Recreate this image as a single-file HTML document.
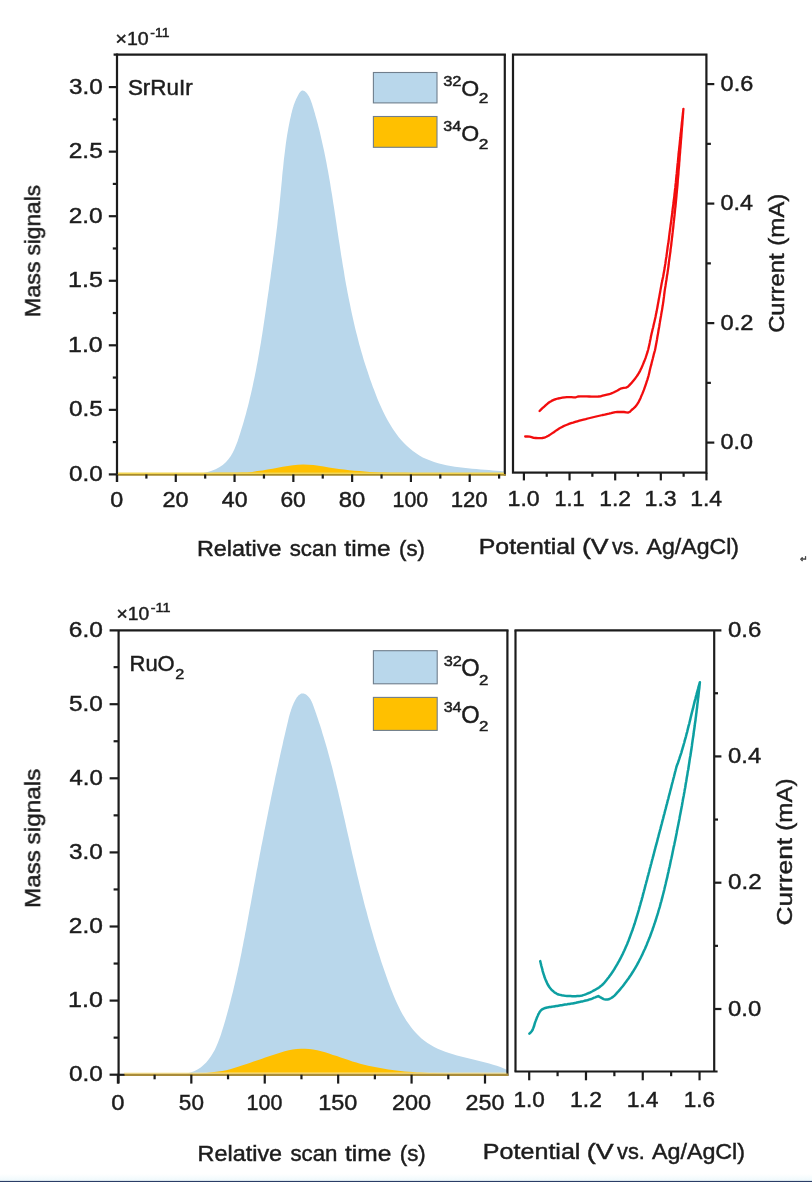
<!DOCTYPE html>
<html lang="en"><head><meta charset="utf-8"><title>DEMS mass signals and CV curves</title>
<style>
html,body{margin:0;padding:0;background:#fff;}
svg{display:block;}
svg text{font-family:"Liberation Sans",sans-serif;stroke:#1c1c1c;stroke-width:0.45px;}
</style></head>
<body>
<svg width="812" height="1182" viewBox="0 0 812 1182">
<defs><filter id="soft" x="0" y="0" width="812" height="1182" filterUnits="userSpaceOnUse"><feGaussianBlur stdDeviation="0.45"/></filter></defs>
<rect width="812" height="1182" fill="#ffffff"/>
<g filter="url(#soft)">
<path d="M118.0,474.4 L150.0,473.8 L195.6,473.2 L199.5,473.3 L203.6,472.9 L207.7,472.1 L211.7,470.8 L215.6,469.2 L219.3,467.2 L222.7,464.9 L225.8,462.2 L228.4,459.3 L230.8,456.0 L232.8,452.6 L234.5,449.0 L236.0,445.2 L237.5,441.4 L238.8,437.5 L240.1,433.6 L241.3,429.6 L242.5,425.7 L243.7,421.8 L244.8,417.8 L245.9,413.9 L246.9,409.9 L248.0,406.0 L249.0,402.0 L249.9,398.0 L250.9,394.1 L251.8,390.1 L252.7,386.1 L253.5,382.1 L254.4,378.1 L255.2,374.1 L256.0,370.1 L256.7,366.1 L257.5,362.0 L258.2,358.0 L258.9,354.0 L259.6,350.0 L260.3,345.9 L261.0,341.9 L261.6,337.9 L262.3,333.8 L262.9,329.8 L263.5,325.8 L264.1,321.7 L264.7,317.7 L265.3,313.7 L265.9,309.6 L266.5,305.6 L267.0,301.6 L267.6,297.5 L268.2,293.5 L268.8,289.5 L269.3,285.4 L269.9,281.4 L270.5,277.4 L271.0,273.3 L271.6,269.3 L272.1,265.3 L272.7,261.2 L273.2,257.2 L273.8,253.2 L274.3,249.1 L274.8,245.1 L275.3,241.1 L275.8,237.0 L276.3,233.0 L276.8,228.9 L277.3,224.9 L277.7,220.8 L278.2,216.7 L278.6,212.7 L279.1,208.6 L279.5,204.5 L279.9,200.4 L280.3,196.4 L280.7,192.3 L281.1,188.2 L281.5,184.1 L281.9,180.0 L282.2,175.9 L282.6,171.8 L283.1,167.7 L283.5,163.6 L283.9,159.5 L284.4,155.4 L284.9,151.4 L285.4,147.3 L285.9,143.3 L286.5,139.2 L287.1,135.2 L287.8,131.2 L288.5,127.2 L289.3,123.3 L290.1,119.3 L291.0,115.4 L291.2,114.3 L291.4,113.4 L291.7,112.5 L291.9,111.7 L291.9,111.5 L292.1,110.8 L292.3,109.9 L292.6,109.1 L292.8,108.2 L293.0,107.6 L293.1,107.3 L293.4,106.5 L293.6,105.6 L293.9,104.8 L294.2,103.9 L294.3,103.7 L294.5,103.0 L294.9,102.2 L295.2,101.3 L295.6,100.5 L295.8,99.9 L295.9,99.6 L296.3,98.7 L296.7,97.9 L297.2,97.0 L297.6,96.2 L297.7,96.0 L298.1,95.3 L298.5,94.5 L299.0,93.6 L299.6,92.8 L299.9,92.3 L300.1,92.0 L300.7,91.4 L301.3,90.9 L302.0,90.6 L302.8,90.6 L302.9,90.6 L303.5,90.8 L304.3,91.1 L305.1,91.6 L305.8,92.2 L306.3,92.6 L306.5,92.9 L307.1,93.6 L307.7,94.4 L308.2,95.2 L308.7,96.0 L308.8,96.1 L309.2,96.8 L309.6,97.7 L310.0,98.5 L310.4,99.4 L310.6,99.9 L310.7,100.2 L311.0,101.1 L311.3,101.9 L311.6,102.8 L311.9,103.6 L312.0,103.7 L312.2,104.5 L312.5,105.4 L312.7,106.2 L313.0,107.1 L313.1,107.6 L313.3,107.9 L313.5,108.8 L313.8,109.7 L314.0,110.5 L314.3,111.4 L314.3,111.5 L314.5,112.3 L314.8,113.1 L315.4,115.4 L316.5,119.3 L317.6,123.2 L318.6,127.2 L319.6,131.1 L320.5,135.1 L321.4,139.0 L322.3,143.0 L323.2,147.0 L324.1,151.0 L324.9,155.0 L325.7,159.0 L326.5,163.0 L327.2,167.0 L328.0,171.0 L328.7,175.0 L329.4,179.1 L330.1,183.1 L330.7,187.1 L331.4,191.2 L332.1,195.2 L332.7,199.3 L333.3,203.3 L334.0,207.4 L334.6,211.5 L335.2,215.5 L335.8,219.6 L336.4,223.6 L337.0,227.7 L337.6,231.7 L338.2,235.8 L338.8,239.8 L339.5,243.9 L340.1,247.9 L340.7,252.0 L341.3,256.0 L342.0,260.1 L342.6,264.1 L343.3,268.1 L344.0,272.1 L344.6,276.2 L345.3,280.2 L346.0,284.2 L346.8,288.2 L347.5,292.2 L348.3,296.2 L349.1,300.2 L349.9,304.1 L350.7,308.1 L351.5,312.1 L352.4,316.1 L353.3,320.0 L354.2,324.0 L355.1,327.9 L356.1,331.9 L357.1,335.8 L358.1,339.8 L359.1,343.7 L360.2,347.6 L361.3,351.6 L362.5,355.5 L363.6,359.4 L364.8,363.3 L366.1,367.2 L367.4,371.1 L368.7,375.1 L370.0,378.9 L371.4,382.8 L372.8,386.7 L374.3,390.6 L375.8,394.5 L377.3,398.4 L378.9,402.2 L380.6,406.0 L382.3,409.8 L384.1,413.5 L386.0,417.2 L387.9,420.8 L390.0,424.3 L392.1,427.7 L394.3,431.1 L396.6,434.3 L399.0,437.4 L401.6,440.4 L404.2,443.3 L407.0,446.0 L409.9,448.6 L412.9,451.1 L416.1,453.3 L419.4,455.4 L422.8,457.4 L426.4,459.1 L430.2,460.6 L434.1,462.0 L438.1,463.2 L442.2,464.3 L446.4,465.2 L450.6,466.0 L454.9,466.7 L459.2,467.3 L463.5,467.8 L467.9,468.3 L472.2,468.7 L476.5,469.0 L480.7,469.4 L484.8,469.7 L488.9,470.0 L492.9,470.4 L496.7,470.7 L500.4,471.1 L504.0,471.6 L504.8,474.4Z" fill="#b9d7eb"/>
<path d="M118.0,475.0 L118.0,473.0 L123.2,473.0 L128.3,473.0 L133.5,473.0 L138.6,473.0 L143.8,473.0 L149.0,473.0 L154.1,472.9 L159.3,472.9 L164.5,472.9 L169.6,472.9 L174.8,472.9 L179.9,472.9 L185.1,472.9 L190.3,472.9 L195.4,472.9 L200.6,472.9 L205.7,472.9 L210.9,472.9 L216.1,472.8 L221.2,472.8 L226.4,472.8 L231.5,472.8 L236.7,472.7 L241.9,472.6 L247.0,472.4 L252.2,471.9 L257.3,471.1 L262.4,470.4 L267.5,469.6 L272.6,468.7 L277.6,467.7 L282.7,466.7 L287.8,465.9 L292.9,465.2 L298.0,464.8 L303.2,464.5 L308.4,464.7 L313.5,465.0 L318.6,465.7 L323.7,466.6 L328.8,467.5 L333.9,468.3 L339.0,469.0 L344.1,469.6 L349.3,470.2 L354.4,470.7 L359.5,471.1 L364.7,471.5 L369.8,471.9 L375.0,472.2 L380.1,472.4 L385.3,472.6 L390.5,472.7 L395.6,472.7 L400.8,472.8 L405.9,472.8 L411.1,472.9 L416.3,472.9 L421.4,472.9 L426.6,472.9 L431.7,472.9 L436.9,473.0 L442.1,473.0 L447.2,473.0 L452.4,473.0 L457.5,473.0 L462.7,473.0 L467.9,473.1 L473.0,473.1 L478.2,473.1 L483.4,473.1 L488.5,473.1 L493.7,473.1 L498.8,473.1 L504.0,473.1 L504.0,475.0Z" fill="#ffc000"/>
<line x1="117.00" y1="53.50" x2="117.00" y2="482.00" stroke="#1c1c1c" stroke-width="2.2" stroke-linecap="butt"/>
<line x1="113.60" y1="54.60" x2="505.90" y2="54.60" stroke="#1c1c1c" stroke-width="2.2" stroke-linecap="butt"/>
<line x1="504.80" y1="54.60" x2="504.80" y2="475.40" stroke="#1c1c1c" stroke-width="2.2" stroke-linecap="butt"/>
<line x1="117.00" y1="474.90" x2="505.80" y2="474.90" stroke="#a98c2c" stroke-width="1.9" stroke-linecap="butt"/>
<line x1="118.00" y1="473.20" x2="503.80" y2="473.20" stroke="#f2d654" stroke-width="1.5" stroke-linecap="butt"/>
<line x1="108.80" y1="474.40" x2="117.00" y2="474.40" stroke="#1c1c1c" stroke-width="2.2" stroke-linecap="butt"/>
<text transform="translate(68.93,480.80) scale(1.0816,1)" font-size="22.43" fill="#1c1c1c">0.0</text>
<line x1="112.80" y1="442.12" x2="117.00" y2="442.12" stroke="#1c1c1c" stroke-width="2.2" stroke-linecap="butt"/>
<line x1="108.80" y1="409.85" x2="117.00" y2="409.85" stroke="#1c1c1c" stroke-width="2.2" stroke-linecap="butt"/>
<text transform="translate(68.93,416.25) scale(1.0857,1)" font-size="22.43" fill="#1c1c1c">0.5</text>
<line x1="112.80" y1="377.57" x2="117.00" y2="377.57" stroke="#1c1c1c" stroke-width="2.2" stroke-linecap="butt"/>
<line x1="108.80" y1="345.30" x2="117.00" y2="345.30" stroke="#1c1c1c" stroke-width="2.2" stroke-linecap="butt"/>
<text transform="translate(68.03,351.70) scale(1.1112,1)" font-size="22.43" fill="#1c1c1c">1.0</text>
<line x1="112.80" y1="313.02" x2="117.00" y2="313.02" stroke="#1c1c1c" stroke-width="2.2" stroke-linecap="butt"/>
<line x1="108.80" y1="280.75" x2="117.00" y2="280.75" stroke="#1c1c1c" stroke-width="2.2" stroke-linecap="butt"/>
<text transform="translate(68.02,287.15) scale(1.1155,1)" font-size="22.43" fill="#1c1c1c">1.5</text>
<line x1="112.80" y1="248.47" x2="117.00" y2="248.47" stroke="#1c1c1c" stroke-width="2.2" stroke-linecap="butt"/>
<line x1="108.80" y1="216.20" x2="117.00" y2="216.20" stroke="#1c1c1c" stroke-width="2.2" stroke-linecap="butt"/>
<text transform="translate(68.68,222.60) scale(1.0899,1)" font-size="22.43" fill="#1c1c1c">2.0</text>
<line x1="112.80" y1="183.93" x2="117.00" y2="183.93" stroke="#1c1c1c" stroke-width="2.2" stroke-linecap="butt"/>
<line x1="108.80" y1="151.65" x2="117.00" y2="151.65" stroke="#1c1c1c" stroke-width="2.2" stroke-linecap="butt"/>
<text transform="translate(68.67,158.05) scale(1.0941,1)" font-size="22.43" fill="#1c1c1c">2.5</text>
<line x1="112.80" y1="119.38" x2="117.00" y2="119.38" stroke="#1c1c1c" stroke-width="2.2" stroke-linecap="butt"/>
<line x1="108.80" y1="87.10" x2="117.00" y2="87.10" stroke="#1c1c1c" stroke-width="2.2" stroke-linecap="butt"/>
<text transform="translate(68.93,93.50) scale(1.0816,1)" font-size="22.43" fill="#1c1c1c">3.0</text>
<line x1="117.00" y1="474.40" x2="117.00" y2="482.00" stroke="#1c1c1c" stroke-width="2.2" stroke-linecap="butt"/>
<line x1="146.39" y1="474.40" x2="146.39" y2="478.60" stroke="#1c1c1c" stroke-width="2.2" stroke-linecap="butt"/>
<line x1="175.78" y1="474.40" x2="175.78" y2="482.00" stroke="#1c1c1c" stroke-width="2.2" stroke-linecap="butt"/>
<line x1="205.18" y1="474.40" x2="205.18" y2="478.60" stroke="#1c1c1c" stroke-width="2.2" stroke-linecap="butt"/>
<line x1="234.57" y1="474.40" x2="234.57" y2="482.00" stroke="#1c1c1c" stroke-width="2.2" stroke-linecap="butt"/>
<line x1="263.96" y1="474.40" x2="263.96" y2="478.60" stroke="#1c1c1c" stroke-width="2.2" stroke-linecap="butt"/>
<line x1="293.35" y1="474.40" x2="293.35" y2="482.00" stroke="#1c1c1c" stroke-width="2.2" stroke-linecap="butt"/>
<line x1="322.74" y1="474.40" x2="322.74" y2="478.60" stroke="#1c1c1c" stroke-width="2.2" stroke-linecap="butt"/>
<line x1="352.14" y1="474.40" x2="352.14" y2="482.00" stroke="#1c1c1c" stroke-width="2.2" stroke-linecap="butt"/>
<line x1="381.53" y1="474.40" x2="381.53" y2="478.60" stroke="#1c1c1c" stroke-width="2.2" stroke-linecap="butt"/>
<line x1="410.92" y1="474.40" x2="410.92" y2="482.00" stroke="#1c1c1c" stroke-width="2.2" stroke-linecap="butt"/>
<line x1="440.31" y1="474.40" x2="440.31" y2="478.60" stroke="#1c1c1c" stroke-width="2.2" stroke-linecap="butt"/>
<line x1="469.70" y1="474.40" x2="469.70" y2="482.00" stroke="#1c1c1c" stroke-width="2.2" stroke-linecap="butt"/>
<line x1="499.10" y1="474.40" x2="499.10" y2="478.60" stroke="#1c1c1c" stroke-width="2.2" stroke-linecap="butt"/>
<text transform="translate(110.37,507.20) scale(1.0606,1)" font-size="22.00" fill="#1c1c1c">0</text>
<text transform="translate(162.51,507.20) scale(1.0643,1)" font-size="22.00" fill="#1c1c1c">20</text>
<text transform="translate(221.81,507.20) scale(1.0513,1)" font-size="22.00" fill="#1c1c1c">40</text>
<text transform="translate(280.41,507.20) scale(1.0377,1)" font-size="22.00" fill="#1c1c1c">60</text>
<text transform="translate(338.66,507.20) scale(1.0856,1)" font-size="22.00" fill="#1c1c1c">80</text>
<text transform="translate(392.62,507.20) scale(0.9705,1)" font-size="22.00" fill="#1c1c1c">100</text>
<text transform="translate(450.64,507.20) scale(1.0114,1)" font-size="22.00" fill="#1c1c1c">120</text>
<text transform="translate(115.53,45.20) scale(1.0302,1)" font-size="18.99" fill="#1c1c1c">×10</text>
<text transform="translate(150.37,36.60) scale(1.0781,1)" font-size="12.90" fill="#1c1c1c">-11</text>
<text transform="translate(127.89,95.20) scale(1.0324,1)" font-size="21.74" fill="#1c1c1c">SrRuIr</text>
<rect x="373.4" y="72.5" width="63.6" height="30.4" fill="#b9d7eb" stroke="#6f7e8c" stroke-width="1.1"/>
<rect x="373.4" y="116.5" width="63.6" height="30.8" fill="#ffc000" stroke="#6f7e8c" stroke-width="1.1"/>
<text transform="translate(443.14,85.60) scale(1.1480,1)" font-size="14.35" fill="#1c1c1c">32</text>
<text transform="translate(461.36,95.60) scale(1.0091,1)" font-size="22.86" fill="#1c1c1c">O</text>
<text transform="translate(478.63,103.20) scale(1.2225,1)" font-size="14.20" fill="#1c1c1c">2</text>
<text transform="translate(443.15,130.90) scale(1.1259,1)" font-size="14.35" fill="#1c1c1c">34</text>
<text transform="translate(461.36,140.90) scale(1.0091,1)" font-size="22.86" fill="#1c1c1c">O</text>
<text transform="translate(478.63,148.50) scale(1.2225,1)" font-size="14.20" fill="#1c1c1c">2</text>
<text transform="translate(40.20,0) rotate(-90)" y="0" font-size="21.74" fill="#1c1c1c" xml:space="preserve"><tspan x="-317.27" textLength="55.98" lengthAdjust="spacingAndGlyphs">Mass</tspan> <tspan x="-255.58" textLength="70.73" lengthAdjust="spacingAndGlyphs">signals</tspan></text>
<text y="556.10" font-size="21.74" fill="#1c1c1c" xml:space="preserve"><tspan x="196.93" textLength="84.49" lengthAdjust="spacingAndGlyphs">Relative</tspan> <tspan x="289.73" textLength="47.07" lengthAdjust="spacingAndGlyphs">scan</tspan> <tspan x="344.33" textLength="46.35" lengthAdjust="spacingAndGlyphs">time</tspan> <tspan x="399.07" textLength="25.89" lengthAdjust="spacingAndGlyphs">(s)</tspan></text>
<path d="M525.2,436.5 L527.4,436.5 L529.6,436.6 L531.6,437.1 L533.6,437.9 L535.8,438.0 L538.0,438.1 L540.2,438.1 L542.3,438.0 L544.4,437.7 L546.4,436.8 L548.4,435.8 L550.2,434.6 L552.0,433.4 L553.8,432.2 L555.6,430.9 L557.4,429.7 L559.2,428.6 L561.1,427.4 L563.0,426.4 L565.0,425.5 L567.0,424.7 L569.0,423.9 L571.1,423.2 L573.1,422.6 L575.2,421.9 L577.3,421.3 L579.4,420.7 L581.5,420.1 L583.6,419.6 L585.7,419.1 L587.8,418.5 L589.9,418.0 L592.0,417.5 L594.1,417.0 L596.2,416.5 L598.3,416.0 L600.5,415.5 L602.6,415.0 L604.7,414.6 L606.8,414.1 L609.0,413.7 L611.1,413.2 L613.2,412.6 L615.3,412.1 L617.4,412.0 L619.6,412.0 L621.8,412.0 L624.0,412.0 L626.2,412.3 L628.3,412.6 L630.0,411.7 L631.6,410.0 L633.3,408.6 L634.9,407.2 L636.3,405.5 L637.6,403.7 L638.7,401.8 L639.6,399.9 L640.6,397.9 L641.4,395.9 L642.3,393.9 L643.1,391.9 L643.9,389.9 L644.6,387.9 L645.3,385.8 L646.0,383.8 L646.7,381.7 L647.4,379.6 L648.0,377.6 L648.6,375.5 L649.1,373.4 L649.6,371.2 L650.1,369.1 L650.6,367.0 L651.2,364.9 L651.7,362.8 L652.2,360.7 L652.8,358.6 L653.3,356.5 L653.8,354.4 L654.4,352.3 L655.0,350.2 L655.4,348.1 L655.8,346.0 L656.2,343.8 L656.6,341.7 L657.0,339.5 L657.3,337.4 L657.7,335.3 L658.1,333.1 L658.4,331.0 L658.8,328.8 L659.2,326.7 L659.5,324.6 L659.9,322.4 L660.2,320.3 L660.6,318.1 L661.0,316.0 L661.3,313.9 L661.7,311.7 L662.1,309.6 L662.4,307.4 L662.8,305.3 L663.1,303.1 L663.4,301.0 L663.7,298.8 L664.0,296.7 L664.2,294.5 L664.5,292.4 L664.8,290.2 L665.1,288.1 L665.5,285.9 L665.8,283.8 L666.1,281.7 L666.5,279.5 L666.8,277.4 L667.1,275.2 L667.5,273.1 L667.8,270.9 L668.1,268.8 L668.4,266.6 L668.7,264.5 L668.9,262.3 L669.2,260.2 L669.5,258.0 L669.8,255.9 L670.1,253.7 L670.4,251.6 L670.6,249.4 L670.9,247.3 L671.2,245.1 L671.4,242.9 L671.7,240.8 L671.9,238.6 L672.2,236.5 L672.4,234.3 L672.7,232.2 L672.9,230.0 L673.2,227.8 L673.4,225.7 L673.6,223.5 L673.9,221.4 L674.1,219.2 L674.3,217.1 L674.6,214.9 L674.8,212.7 L675.0,210.6 L675.2,208.4 L675.5,206.3 L675.7,204.1 L675.9,201.9 L676.1,199.8 L676.3,197.6 L676.5,195.5 L676.7,193.3 L676.9,191.1 L677.1,189.0 L677.3,186.8 L677.5,184.6 L677.7,182.5 L677.8,180.3 L678.0,178.2 L678.2,176.0 L678.4,173.8 L678.5,171.7 L678.7,169.5 L678.9,167.3 L679.1,165.2 L679.2,163.0 L679.4,160.8 L679.6,158.7 L679.7,156.5 L679.9,154.4 L680.1,152.2 L680.2,150.0 L680.4,147.9 L680.6,145.7 L680.8,143.5 L680.9,141.4 L681.1,139.2 L681.3,137.0 L681.4,134.9 L681.6,132.7 L681.8,130.5 L681.9,128.4 L682.1,126.2 L682.3,124.1 L682.4,121.9 L682.6,119.7 L682.8,117.6 L682.9,115.4 L683.1,113.2 L683.2,111.1 L683.4,108.9 L683.4,108.9 L683.2,111.1 L682.9,113.4 L682.7,115.6 L682.4,117.9 L682.2,120.1 L681.9,122.3 L681.7,124.6 L681.5,126.8 L681.2,129.1 L681.0,131.3 L680.7,133.6 L680.5,135.8 L680.3,138.0 L680.0,140.3 L679.8,142.5 L679.6,144.8 L679.3,147.0 L679.1,149.2 L678.9,151.5 L678.6,153.7 L678.4,156.0 L678.2,158.2 L678.0,160.5 L677.8,162.7 L677.5,164.9 L677.3,167.2 L677.1,169.4 L676.9,171.7 L676.7,173.9 L676.4,176.2 L676.2,178.4 L676.0,180.6 L675.8,182.9 L675.5,185.1 L675.3,187.4 L675.0,189.6 L674.8,191.8 L674.5,194.1 L674.3,196.3 L674.0,198.6 L673.7,200.8 L673.5,203.0 L673.2,205.3 L672.9,207.5 L672.6,209.7 L672.4,212.0 L672.1,214.2 L671.8,216.5 L671.5,218.7 L671.2,220.9 L670.9,223.2 L670.6,225.4 L670.3,227.6 L670.0,229.9 L669.7,232.1 L669.4,234.3 L669.1,236.6 L668.9,238.8 L668.6,241.0 L668.3,243.3 L667.9,245.5 L667.6,247.7 L667.3,250.0 L667.0,252.2 L666.7,254.4 L666.4,256.7 L666.0,258.9 L665.7,261.1 L665.4,263.4 L665.0,265.6 L664.7,267.8 L664.3,270.0 L663.9,272.2 L663.5,274.5 L663.1,276.7 L662.6,278.9 L662.2,281.1 L661.7,283.3 L661.3,285.5 L660.9,287.7 L660.5,289.9 L660.1,292.2 L659.7,294.4 L659.3,296.6 L658.9,298.8 L658.5,301.0 L658.1,303.3 L657.7,305.5 L657.3,307.7 L656.9,309.9 L656.5,312.1 L656.0,314.3 L655.6,316.5 L655.1,318.8 L654.6,321.0 L654.1,323.1 L653.6,325.3 L653.1,327.5 L652.5,329.7 L652.0,331.9 L651.5,334.1 L651.0,336.3 L650.6,338.5 L650.1,340.7 L649.7,342.9 L649.2,345.2 L648.7,347.4 L648.2,349.5 L647.6,351.7 L646.9,353.9 L646.2,356.0 L645.5,358.1 L644.7,360.2 L643.8,362.3 L643.0,364.4 L642.1,366.5 L641.2,368.6 L640.2,370.6 L639.1,372.6 L638.0,374.5 L636.7,376.4 L635.4,378.2 L634.0,379.9 L632.5,381.7 L631.1,383.4 L629.5,385.1 L627.9,386.8 L626.0,387.6 L623.7,387.9 L621.5,388.3 L619.5,389.3 L617.5,390.5 L615.5,391.5 L613.5,392.5 L611.4,393.4 L609.3,394.2 L607.1,394.7 L604.9,395.2 L602.7,395.7 L600.5,396.3 L598.3,396.5 L596.0,396.6 L593.8,396.6 L591.5,396.6 L589.3,396.5 L587.0,396.4 L584.8,396.3 L582.5,396.3 L580.2,396.3 L578.0,396.5 L575.9,397.3 L573.7,397.3 L571.4,397.2 L569.1,397.1 L566.9,397.1 L564.6,397.3 L562.4,397.7 L560.2,398.1 L558.0,398.5 L555.8,399.1 L553.7,399.9 L551.6,400.9 L549.7,402.0 L547.9,403.3 L546.1,404.8 L544.5,406.3 L542.8,407.8 L541.2,409.4 L539.6,411.0" fill="none" stroke="#f20a0c" stroke-width="2.3" stroke-linejoin="round" stroke-linecap="round"/>
<rect x="513.0" y="54.6" width="193.4" height="418.0" fill="none" stroke="#1c1c1c" stroke-width="2.2"/>
<line x1="523.90" y1="472.60" x2="523.90" y2="480.40" stroke="#1c1c1c" stroke-width="2.2" stroke-linecap="butt"/>
<line x1="546.72" y1="472.60" x2="546.72" y2="476.80" stroke="#1c1c1c" stroke-width="2.2" stroke-linecap="butt"/>
<line x1="569.54" y1="472.60" x2="569.54" y2="480.40" stroke="#1c1c1c" stroke-width="2.2" stroke-linecap="butt"/>
<line x1="592.36" y1="472.60" x2="592.36" y2="476.80" stroke="#1c1c1c" stroke-width="2.2" stroke-linecap="butt"/>
<line x1="615.18" y1="472.60" x2="615.18" y2="480.40" stroke="#1c1c1c" stroke-width="2.2" stroke-linecap="butt"/>
<line x1="638.00" y1="472.60" x2="638.00" y2="476.80" stroke="#1c1c1c" stroke-width="2.2" stroke-linecap="butt"/>
<line x1="660.82" y1="472.60" x2="660.82" y2="480.40" stroke="#1c1c1c" stroke-width="2.2" stroke-linecap="butt"/>
<line x1="683.64" y1="472.60" x2="683.64" y2="476.80" stroke="#1c1c1c" stroke-width="2.2" stroke-linecap="butt"/>
<line x1="706.46" y1="472.60" x2="706.46" y2="480.40" stroke="#1c1c1c" stroke-width="2.2" stroke-linecap="butt"/>
<text transform="translate(507.57,505.60) scale(1.0511,1)" font-size="22.00" fill="#1c1c1c">1.0</text>
<text transform="translate(554.42,505.60) scale(0.9807,1)" font-size="22.00" fill="#1c1c1c">1.1</text>
<text transform="translate(599.22,505.60) scale(1.0384,1)" font-size="22.00" fill="#1c1c1c">1.2</text>
<text transform="translate(644.53,505.60) scale(1.0517,1)" font-size="22.00" fill="#1c1c1c">1.3</text>
<text transform="translate(690.19,505.60) scale(1.0435,1)" font-size="22.00" fill="#1c1c1c">1.4</text>
<line x1="706.40" y1="442.60" x2="714.30" y2="442.60" stroke="#1c1c1c" stroke-width="2.2" stroke-linecap="butt"/>
<text transform="translate(720.56,449.10) scale(1.0510,1)" font-size="22.29" fill="#1c1c1c">0.0</text>
<line x1="706.40" y1="382.85" x2="710.90" y2="382.85" stroke="#1c1c1c" stroke-width="2.2" stroke-linecap="butt"/>
<line x1="706.40" y1="323.10" x2="714.30" y2="323.10" stroke="#1c1c1c" stroke-width="2.2" stroke-linecap="butt"/>
<text transform="translate(720.55,329.60) scale(1.0631,1)" font-size="22.29" fill="#1c1c1c">0.2</text>
<line x1="706.40" y1="263.35" x2="710.90" y2="263.35" stroke="#1c1c1c" stroke-width="2.2" stroke-linecap="butt"/>
<line x1="706.40" y1="203.60" x2="714.30" y2="203.60" stroke="#1c1c1c" stroke-width="2.2" stroke-linecap="butt"/>
<text transform="translate(720.57,210.10) scale(1.0470,1)" font-size="22.29" fill="#1c1c1c">0.4</text>
<line x1="706.40" y1="143.85" x2="710.90" y2="143.85" stroke="#1c1c1c" stroke-width="2.2" stroke-linecap="butt"/>
<line x1="706.40" y1="84.10" x2="714.30" y2="84.10" stroke="#1c1c1c" stroke-width="2.2" stroke-linecap="butt"/>
<text transform="translate(720.56,90.60) scale(1.0550,1)" font-size="22.29" fill="#1c1c1c">0.6</text>
<text transform="translate(783.80,0) rotate(-90)" y="0" font-size="22.17" fill="#1c1c1c" xml:space="preserve"><tspan x="-332.89" textLength="79.62" lengthAdjust="spacingAndGlyphs">Current</tspan> <tspan x="-245.85" textLength="52.22" lengthAdjust="spacingAndGlyphs">(mA)</tspan></text>
<text y="553.70" font-size="22.17" fill="#1c1c1c" xml:space="preserve"><tspan x="478.71" textLength="96.85" lengthAdjust="spacingAndGlyphs">Potential</tspan> <tspan x="581.90" textLength="26.63" lengthAdjust="spacingAndGlyphs">(V</tspan> <tspan x="611.99" textLength="27.61" lengthAdjust="spacingAndGlyphs">vs.</tspan> <tspan x="646.60" textLength="92.42" lengthAdjust="spacingAndGlyphs">Ag/AgCl)</tspan></text>
<text x="800" y="561.5" font-size="9" fill="#8a8a8a" stroke="none">↵</text>
<path d="M119.6,1074.7 L150.0,1074.4 L182.0,1074.3 L186.4,1073.7 L190.4,1072.6 L194.1,1071.2 L197.5,1069.5 L200.7,1067.4 L203.5,1065.1 L206.2,1062.5 L208.6,1059.6 L210.8,1056.6 L212.8,1053.3 L214.7,1049.9 L216.4,1046.3 L218.0,1042.6 L219.4,1038.8 L220.8,1035.0 L222.0,1031.0 L223.3,1027.1 L224.5,1023.1 L225.6,1019.2 L226.7,1015.2 L227.8,1011.3 L228.9,1007.3 L229.9,1003.4 L230.9,999.5 L231.9,995.6 L232.9,991.7 L233.8,987.8 L234.7,983.9 L235.6,980.0 L236.5,976.1 L237.4,972.2 L238.2,968.3 L239.1,964.4 L239.9,960.5 L240.7,956.6 L241.5,952.7 L242.2,948.8 L243.0,945.0 L243.7,941.1 L244.5,937.2 L245.2,933.3 L246.0,929.4 L246.7,925.5 L247.4,921.7 L248.1,917.8 L248.8,913.9 L249.5,910.0 L250.3,906.1 L251.0,902.2 L251.7,898.3 L252.4,894.4 L253.1,890.4 L253.8,886.5 L254.6,882.6 L255.3,878.7 L256.0,874.7 L256.7,870.8 L257.5,866.9 L258.2,862.9 L259.0,859.0 L259.7,855.0 L260.5,851.1 L261.2,847.1 L262.0,843.2 L262.8,839.2 L263.6,835.3 L264.3,831.3 L265.1,827.4 L265.9,823.4 L266.7,819.5 L267.5,815.5 L268.3,811.6 L269.1,807.6 L269.9,803.7 L270.7,799.7 L271.5,795.8 L272.3,791.9 L273.1,787.9 L274.0,784.0 L274.8,780.1 L275.6,776.1 L276.5,772.2 L277.3,768.3 L278.2,764.4 L279.0,760.5 L279.9,756.6 L280.7,752.7 L281.6,748.8 L282.5,745.0 L283.3,741.1 L284.2,737.2 L285.1,733.4 L286.0,729.5 L286.9,725.7 L287.8,721.9 L288.7,718.0 L289.5,715.1 L289.7,714.3 L289.7,714.2 L290.0,713.4 L290.2,712.6 L290.5,711.7 L290.8,710.9 L290.9,710.4 L291.0,710.0 L291.3,709.2 L291.6,708.4 L291.9,707.5 L292.2,706.7 L292.2,706.7 L292.6,705.8 L292.9,705.0 L293.3,704.2 L293.6,703.3 L293.8,702.9 L294.0,702.5 L294.4,701.7 L294.9,700.8 L295.3,700.0 L295.7,699.2 L295.7,699.2 L296.2,698.4 L296.7,697.6 L297.3,696.9 L297.8,696.2 L298.1,695.8 L298.4,695.5 L299.1,694.9 L299.8,694.4 L300.5,694.0 L301.2,693.6 L301.2,693.6 L302.0,693.4 L302.8,693.4 L303.6,693.5 L304.4,693.7 L304.8,693.9 L305.2,694.1 L305.9,694.5 L306.7,695.1 L307.4,695.7 L308.1,696.3 L308.1,696.4 L308.7,697.0 L309.3,697.8 L309.9,698.5 L310.4,699.3 L310.6,699.6 L310.8,700.0 L311.2,700.8 L311.6,701.6 L312.0,702.4 L312.3,703.2 L312.4,703.2 L312.7,704.0 L313.0,704.9 L313.3,705.7 L313.6,706.5 L313.8,706.9 L313.9,707.4 L314.2,708.2 L314.5,709.0 L314.8,709.9 L315.1,710.6 L315.1,710.7 L315.4,711.5 L315.7,712.4 L316.0,713.2 L316.3,714.1 L316.4,714.4 L317.7,718.2 L318.9,722.0 L320.2,725.8 L321.4,729.6 L322.5,733.4 L323.7,737.2 L324.8,741.1 L326.0,744.9 L327.1,748.7 L328.1,752.6 L329.2,756.5 L330.2,760.3 L331.3,764.2 L332.3,768.1 L333.3,772.0 L334.2,775.9 L335.2,779.8 L336.2,783.7 L337.1,787.6 L338.1,791.5 L339.0,795.4 L339.9,799.3 L340.8,803.2 L341.7,807.1 L342.6,811.0 L343.5,814.9 L344.4,818.8 L345.3,822.7 L346.1,826.6 L347.0,830.5 L347.9,834.4 L348.8,838.3 L349.7,842.2 L350.5,846.1 L351.4,850.0 L352.3,853.9 L353.2,857.7 L354.1,861.6 L355.0,865.5 L355.9,869.3 L356.8,873.2 L357.7,877.0 L358.7,880.9 L359.6,884.7 L360.5,888.6 L361.5,892.4 L362.5,896.3 L363.4,900.1 L364.4,903.9 L365.4,907.8 L366.5,911.6 L367.5,915.4 L368.5,919.3 L369.6,923.1 L370.7,926.9 L371.8,930.8 L372.9,934.6 L374.0,938.4 L375.2,942.2 L376.3,946.1 L377.5,949.9 L378.8,953.8 L380.0,957.6 L381.2,961.4 L382.5,965.3 L383.8,969.1 L385.2,973.0 L386.5,976.8 L387.9,980.7 L389.3,984.5 L390.8,988.4 L392.3,992.2 L393.8,996.0 L395.4,999.7 L397.1,1003.4 L398.8,1007.1 L400.6,1010.7 L402.5,1014.2 L404.5,1017.6 L406.6,1020.9 L408.8,1024.1 L411.1,1027.2 L413.5,1030.2 L416.0,1033.1 L418.7,1035.8 L421.5,1038.4 L424.4,1040.8 L427.5,1043.0 L430.8,1045.1 L434.2,1047.0 L437.7,1048.7 L441.4,1050.3 L445.2,1051.8 L449.0,1053.1 L453.0,1054.3 L457.0,1055.5 L461.0,1056.6 L465.1,1057.6 L469.2,1058.6 L473.3,1059.6 L477.3,1060.6 L481.3,1061.5 L485.3,1062.5 L489.2,1063.6 L493.1,1064.7 L496.8,1065.8 L500.4,1067.1 L503.9,1068.4 L507.3,1069.9 L507.4,1074.7Z" fill="#b9d7eb"/>
<path d="M124.0,1075.4 L124.0,1073.6 L128.1,1073.6 L132.2,1073.6 L136.3,1073.6 L140.4,1073.6 L144.5,1073.6 L148.6,1073.6 L152.7,1073.6 L156.8,1073.6 L160.9,1073.6 L165.0,1073.6 L169.1,1073.6 L173.2,1073.6 L177.3,1073.6 L181.4,1073.6 L185.5,1073.6 L189.6,1073.5 L193.7,1073.5 L197.8,1073.4 L201.9,1073.3 L206.0,1073.0 L210.0,1072.6 L214.1,1072.1 L218.2,1071.6 L222.2,1071.0 L226.3,1070.3 L230.2,1069.3 L234.1,1068.1 L238.1,1066.8 L241.9,1065.5 L245.8,1064.2 L249.7,1062.9 L253.6,1061.6 L257.5,1060.3 L261.4,1059.0 L265.2,1057.6 L269.1,1056.3 L273.0,1055.0 L276.9,1053.7 L280.8,1052.5 L284.7,1051.3 L288.7,1050.2 L292.7,1049.6 L296.8,1049.0 L300.9,1048.8 L305.0,1048.8 L309.1,1049.0 L313.1,1049.6 L317.2,1050.3 L321.2,1051.3 L325.1,1052.3 L329.0,1053.6 L332.9,1054.9 L336.8,1056.1 L340.7,1057.5 L344.6,1058.8 L348.5,1060.1 L352.4,1061.4 L356.3,1062.6 L360.2,1063.7 L364.2,1064.8 L368.2,1065.7 L372.2,1066.5 L376.2,1067.3 L380.2,1068.0 L384.3,1068.7 L388.3,1069.4 L392.4,1069.9 L396.4,1070.5 L400.5,1071.0 L404.6,1071.5 L408.7,1071.8 L412.8,1072.1 L416.8,1072.4 L420.9,1072.6 L425.0,1072.8 L429.1,1073.0 L433.2,1073.1 L437.3,1073.2 L441.4,1073.3 L445.5,1073.4 L449.6,1073.4 L453.7,1073.5 L457.8,1073.5 L461.9,1073.6 L466.0,1073.6 L470.1,1073.6 L474.2,1073.6 L478.3,1073.6 L482.4,1073.7 L486.5,1073.7 L490.6,1073.7 L494.7,1073.7 L498.8,1073.7 L502.9,1073.7 L507.0,1073.7 L507.0,1075.4Z" fill="#ffc000"/>
<line x1="118.60" y1="630.30" x2="118.60" y2="1083.60" stroke="#1c1c1c" stroke-width="2.2" stroke-linecap="butt"/>
<line x1="109.60" y1="630.30" x2="508.50" y2="630.30" stroke="#1c1c1c" stroke-width="2.2" stroke-linecap="butt"/>
<line x1="507.40" y1="630.30" x2="507.40" y2="1075.70" stroke="#1c1c1c" stroke-width="2.2" stroke-linecap="butt"/>
<line x1="124.00" y1="1074.80" x2="508.40" y2="1074.80" stroke="#a98c3a" stroke-width="2.5" stroke-linecap="butt"/>
<line x1="117.60" y1="1074.80" x2="124.50" y2="1074.80" stroke="#1c1c1c" stroke-width="2.2" stroke-linecap="butt"/>
<line x1="124.00" y1="1073.10" x2="506.40" y2="1073.10" stroke="#f8e9a8" stroke-width="1.0" stroke-linecap="butt"/>
<line x1="109.60" y1="1074.70" x2="118.60" y2="1074.70" stroke="#1c1c1c" stroke-width="2.2" stroke-linecap="butt"/>
<text transform="translate(69.03,1081.20) scale(1.0781,1)" font-size="22.57" fill="#1c1c1c">0.0</text>
<line x1="113.60" y1="1037.65" x2="118.60" y2="1037.65" stroke="#1c1c1c" stroke-width="2.2" stroke-linecap="butt"/>
<line x1="109.60" y1="1000.60" x2="118.60" y2="1000.60" stroke="#1c1c1c" stroke-width="2.2" stroke-linecap="butt"/>
<text transform="translate(68.12,1007.10) scale(1.1076,1)" font-size="22.57" fill="#1c1c1c">1.0</text>
<line x1="113.60" y1="963.55" x2="118.60" y2="963.55" stroke="#1c1c1c" stroke-width="2.2" stroke-linecap="butt"/>
<line x1="109.60" y1="926.50" x2="118.60" y2="926.50" stroke="#1c1c1c" stroke-width="2.2" stroke-linecap="butt"/>
<text transform="translate(68.77,933.00) scale(1.0864,1)" font-size="22.57" fill="#1c1c1c">2.0</text>
<line x1="113.60" y1="889.45" x2="118.60" y2="889.45" stroke="#1c1c1c" stroke-width="2.2" stroke-linecap="butt"/>
<line x1="109.60" y1="852.40" x2="118.60" y2="852.40" stroke="#1c1c1c" stroke-width="2.2" stroke-linecap="butt"/>
<text transform="translate(69.03,858.90) scale(1.0781,1)" font-size="22.57" fill="#1c1c1c">3.0</text>
<line x1="113.60" y1="815.35" x2="118.60" y2="815.35" stroke="#1c1c1c" stroke-width="2.2" stroke-linecap="butt"/>
<line x1="109.60" y1="778.30" x2="118.60" y2="778.30" stroke="#1c1c1c" stroke-width="2.2" stroke-linecap="butt"/>
<text transform="translate(69.52,784.80) scale(1.0620,1)" font-size="22.57" fill="#1c1c1c">4.0</text>
<line x1="113.60" y1="741.25" x2="118.60" y2="741.25" stroke="#1c1c1c" stroke-width="2.2" stroke-linecap="butt"/>
<line x1="109.60" y1="704.20" x2="118.60" y2="704.20" stroke="#1c1c1c" stroke-width="2.2" stroke-linecap="butt"/>
<text transform="translate(69.03,710.70) scale(1.0781,1)" font-size="22.57" fill="#1c1c1c">5.0</text>
<line x1="113.60" y1="667.15" x2="118.60" y2="667.15" stroke="#1c1c1c" stroke-width="2.2" stroke-linecap="butt"/>
<text transform="translate(68.77,636.60) scale(1.0864,1)" font-size="22.57" fill="#1c1c1c">6.0</text>
<line x1="117.90" y1="1074.70" x2="117.90" y2="1083.60" stroke="#1c1c1c" stroke-width="2.2" stroke-linecap="butt"/>
<line x1="154.61" y1="1074.70" x2="154.61" y2="1079.30" stroke="#1c1c1c" stroke-width="2.2" stroke-linecap="butt"/>
<line x1="191.32" y1="1074.70" x2="191.32" y2="1083.60" stroke="#1c1c1c" stroke-width="2.2" stroke-linecap="butt"/>
<line x1="228.03" y1="1074.70" x2="228.03" y2="1079.30" stroke="#1c1c1c" stroke-width="2.2" stroke-linecap="butt"/>
<line x1="264.74" y1="1074.70" x2="264.74" y2="1083.60" stroke="#1c1c1c" stroke-width="2.2" stroke-linecap="butt"/>
<line x1="301.45" y1="1074.70" x2="301.45" y2="1079.30" stroke="#1c1c1c" stroke-width="2.2" stroke-linecap="butt"/>
<line x1="338.16" y1="1074.70" x2="338.16" y2="1083.60" stroke="#1c1c1c" stroke-width="2.2" stroke-linecap="butt"/>
<line x1="374.87" y1="1074.70" x2="374.87" y2="1079.30" stroke="#1c1c1c" stroke-width="2.2" stroke-linecap="butt"/>
<line x1="411.58" y1="1074.70" x2="411.58" y2="1083.60" stroke="#1c1c1c" stroke-width="2.2" stroke-linecap="butt"/>
<line x1="448.29" y1="1074.70" x2="448.29" y2="1079.30" stroke="#1c1c1c" stroke-width="2.2" stroke-linecap="butt"/>
<line x1="485.00" y1="1074.70" x2="485.00" y2="1083.60" stroke="#1c1c1c" stroke-width="2.2" stroke-linecap="butt"/>
<text transform="translate(111.35,1109.50) scale(1.0589,1)" font-size="22.43" fill="#1c1c1c">0</text>
<text transform="translate(178.87,1109.50) scale(1.0037,1)" font-size="22.43" fill="#1c1c1c">50</text>
<text transform="translate(246.58,1109.50) scale(0.9548,1)" font-size="22.43" fill="#1c1c1c">100</text>
<text transform="translate(318.25,1109.50) scale(1.0466,1)" font-size="22.43" fill="#1c1c1c">150</text>
<text transform="translate(391.90,1109.50) scale(1.0497,1)" font-size="22.43" fill="#1c1c1c">200</text>
<text transform="translate(465.54,1109.50) scale(1.0385,1)" font-size="22.43" fill="#1c1c1c">250</text>
<text transform="translate(116.55,620.10) scale(1.0137,1)" font-size="18.99" fill="#1c1c1c">×10</text>
<text transform="translate(150.75,612.00) scale(1.1145,1)" font-size="12.90" fill="#1c1c1c">-11</text>
<text transform="translate(129.54,670.90) scale(1.0039,1)" font-size="21.88" fill="#1c1c1c">RuO</text>
<text transform="translate(175.29,678.50) scale(1.0895,1)" font-size="14.93" fill="#1c1c1c">2</text>
<rect x="373.4" y="650.7" width="63.8" height="33.1" fill="#b9d7eb" stroke="#6f7e8c" stroke-width="1.1"/>
<rect x="373.4" y="697.4" width="63.8" height="33.0" fill="#ffc000" stroke="#6f7e8c" stroke-width="1.1"/>
<text transform="translate(443.65,665.90) scale(1.1076,1)" font-size="14.78" fill="#1c1c1c">32</text>
<text transform="translate(461.34,676.40) scale(0.9913,1)" font-size="23.86" fill="#1c1c1c">O</text>
<text transform="translate(479.05,684.50) scale(1.1228,1)" font-size="15.07" fill="#1c1c1c">2</text>
<text transform="translate(443.66,712.40) scale(1.0863,1)" font-size="14.78" fill="#1c1c1c">34</text>
<text transform="translate(461.34,722.90) scale(0.9913,1)" font-size="23.86" fill="#1c1c1c">O</text>
<text transform="translate(479.05,731.00) scale(1.1228,1)" font-size="15.07" fill="#1c1c1c">2</text>
<text transform="translate(40.20,0) rotate(-90)" y="0" font-size="22.03" fill="#1c1c1c" xml:space="preserve"><tspan x="-907.94" textLength="57.87" lengthAdjust="spacingAndGlyphs">Mass</tspan> <tspan x="-844.43" textLength="75.73" lengthAdjust="spacingAndGlyphs">signals</tspan></text>
<text y="1161.10" font-size="21.88" fill="#1c1c1c" xml:space="preserve"><tspan x="197.63" textLength="84.49" lengthAdjust="spacingAndGlyphs">Relative</tspan> <tspan x="290.43" textLength="47.07" lengthAdjust="spacingAndGlyphs">scan</tspan> <tspan x="345.03" textLength="46.35" lengthAdjust="spacingAndGlyphs">time</tspan> <tspan x="399.76" textLength="26.00" lengthAdjust="spacingAndGlyphs">(s)</tspan></text>
<path d="M529.4,1033.7 L530.2,1032.9 L531.0,1032.1 L531.7,1031.2 L532.3,1030.3 L532.8,1029.4 L533.2,1028.4 L533.6,1027.3 L534.0,1026.3 L534.3,1025.2 L534.6,1024.1 L534.9,1023.0 L535.3,1021.9 L535.7,1020.9 L536.1,1019.8 L536.5,1018.8 L536.9,1017.7 L537.3,1016.7 L537.8,1015.7 L538.2,1014.7 L538.8,1013.7 L539.3,1012.7 L539.9,1011.7 L540.6,1010.8 L541.3,1010.0 L542.2,1009.4 L543.1,1008.9 L544.2,1008.4 L545.2,1008.0 L546.3,1007.7 L547.4,1007.4 L548.5,1007.2 L549.6,1007.0 L550.7,1006.9 L551.8,1006.7 L552.9,1006.6 L554.0,1006.4 L555.1,1006.2 L556.2,1006.0 L557.3,1005.9 L558.4,1005.7 L559.5,1005.5 L560.6,1005.3 L561.7,1005.2 L562.8,1005.0 L563.9,1004.8 L565.0,1004.6 L566.1,1004.4 L567.2,1004.3 L568.3,1004.1 L569.4,1003.9 L570.5,1003.7 L571.6,1003.6 L572.7,1003.4 L573.8,1003.2 L574.9,1003.0 L576.0,1002.8 L577.1,1002.5 L578.2,1002.3 L579.3,1002.1 L580.4,1001.8 L581.5,1001.6 L582.6,1001.4 L583.6,1001.1 L584.7,1000.8 L585.8,1000.5 L586.9,1000.3 L588.0,1000.0 L589.0,999.6 L590.1,999.3 L591.1,999.0 L592.2,998.6 L593.2,998.1 L594.2,997.7 L595.3,997.3 L596.3,996.8 L597.3,996.5 L598.4,996.1 L598.4,996.1 L600.1,997.1 L601.9,998.1 L603.7,999.1 L605.6,999.6 L607.6,999.5 L609.5,999.0 L611.3,998.0 L613.0,996.9 L614.5,995.6 L615.9,994.1 L617.2,992.6 L618.6,991.1 L619.9,989.6 L621.2,988.0 L622.5,986.5 L623.7,984.9 L624.9,983.3 L626.1,981.7 L627.3,980.1 L628.5,978.5 L629.6,976.8 L630.7,975.2 L631.8,973.5 L632.9,971.8 L633.9,970.1 L635.0,968.3 L636.0,966.6 L637.0,964.9 L637.9,963.1 L638.9,961.3 L639.8,959.5 L640.7,957.8 L641.6,956.0 L642.5,954.1 L643.3,952.3 L644.1,950.5 L645.0,948.7 L645.8,946.8 L646.6,945.0 L647.3,943.1 L648.1,941.3 L648.8,939.4 L649.6,937.6 L650.3,935.7 L651.0,933.8 L651.7,931.9 L652.4,930.0 L653.0,928.1 L653.7,926.2 L654.3,924.3 L655.0,922.4 L655.6,920.5 L656.2,918.6 L656.8,916.7 L657.4,914.8 L658.0,912.9 L658.5,911.0 L659.1,909.0 L659.7,907.1 L660.2,905.2 L660.7,903.2 L661.3,901.3 L661.8,899.4 L662.3,897.4 L662.8,895.5 L663.3,893.5 L663.8,891.6 L664.3,889.6 L664.7,887.7 L665.2,885.7 L665.7,883.8 L666.1,881.8 L666.6,879.9 L667.1,877.9 L667.5,876.0 L667.9,874.0 L668.4,872.1 L668.8,870.1 L669.2,868.1 L669.7,866.2 L670.1,864.2 L670.5,862.3 L670.9,860.3 L671.4,858.3 L671.8,856.4 L672.2,854.4 L672.6,852.5 L673.0,850.5 L673.4,848.5 L673.8,846.6 L674.3,844.6 L674.7,842.6 L675.1,840.7 L675.5,838.7 L675.9,836.7 L676.3,834.8 L676.7,832.8 L677.0,830.8 L677.4,828.9 L677.8,826.9 L678.2,824.9 L678.6,823.0 L679.0,821.0 L679.4,819.0 L679.7,817.1 L680.1,815.1 L680.5,813.1 L680.9,811.1 L681.2,809.2 L681.6,807.2 L682.0,805.2 L682.3,803.3 L682.7,801.3 L683.0,799.3 L683.4,797.3 L683.8,795.4 L684.1,793.4 L684.5,791.4 L684.8,789.4 L685.2,787.5 L685.5,785.5 L685.8,783.5 L686.2,781.5 L686.5,779.6 L686.8,777.6 L687.2,775.6 L687.5,773.6 L687.8,771.6 L688.2,769.7 L688.5,767.7 L688.8,765.7 L689.1,763.7 L689.4,761.7 L689.7,759.8 L690.0,757.8 L690.4,755.8 L690.7,753.8 L691.0,751.8 L691.3,749.8 L691.6,747.9 L691.9,745.9 L692.1,743.9 L692.4,741.9 L692.7,739.9 L693.0,737.9 L693.3,736.0 L693.6,734.0 L693.8,732.0 L694.1,730.0 L694.4,728.0 L694.7,726.0 L694.9,724.0 L695.2,722.0 L695.5,720.1 L695.7,718.1 L696.0,716.1 L696.2,714.1 L696.5,712.1 L696.7,710.1 L697.0,708.1 L697.2,706.1 L697.4,704.1 L697.7,702.1 L697.9,700.1 L698.1,698.2 L698.4,696.2 L698.6,694.2 L698.8,692.2 L699.0,690.2 L699.3,688.2 L699.5,686.2 L699.7,684.2 L699.9,682.2 L699.9,682.2 L699.3,684.3 L698.7,686.3 L698.2,688.4 L697.6,690.5 L697.0,692.5 L696.5,694.6 L695.9,696.7 L695.4,698.8 L694.8,700.8 L694.3,702.9 L693.8,705.0 L693.3,707.1 L692.8,709.2 L692.2,711.3 L691.7,713.4 L691.2,715.4 L690.7,717.5 L690.2,719.6 L689.7,721.7 L689.2,723.8 L688.6,725.9 L688.1,727.9 L687.6,730.0 L687.1,732.1 L686.5,734.2 L686.0,736.3 L685.4,738.3 L684.8,740.4 L684.3,742.5 L683.7,744.5 L683.1,746.6 L682.5,748.7 L681.9,750.7 L681.3,752.8 L680.6,754.8 L679.9,756.9 L679.3,758.9 L678.6,760.9 L677.9,763.0 L677.1,765.0 L676.4,767.0 L676.4,767.0 L676.0,768.7 L675.6,770.3 L675.1,772.0 L674.7,773.7 L674.3,775.3 L673.9,777.0 L673.4,778.7 L673.0,780.3 L672.6,782.0 L672.1,783.7 L671.7,785.3 L671.3,787.0 L670.9,788.7 L670.4,790.3 L670.0,792.0 L669.6,793.7 L669.1,795.3 L668.7,797.0 L668.3,798.6 L667.8,800.3 L667.4,802.0 L667.0,803.6 L666.5,805.3 L666.1,807.0 L665.7,808.6 L665.2,810.3 L664.8,812.0 L664.4,813.6 L663.9,815.3 L663.5,817.0 L663.1,818.6 L662.6,820.3 L662.2,821.9 L661.8,823.6 L661.3,825.3 L660.9,826.9 L660.5,828.6 L660.0,830.3 L659.6,831.9 L659.1,833.6 L658.7,835.2 L658.3,836.9 L657.8,838.6 L657.4,840.2 L657.0,841.9 L656.5,843.6 L656.1,845.2 L655.6,846.9 L655.2,848.5 L654.8,850.2 L654.3,851.9 L653.9,853.5 L653.5,855.2 L653.0,856.9 L652.6,858.5 L652.1,860.2 L651.7,861.8 L651.3,863.5 L650.8,865.2 L650.4,866.8 L649.9,868.5 L649.5,870.2 L649.1,871.8 L648.6,873.5 L648.2,875.1 L647.7,876.8 L647.3,878.5 L646.9,880.1 L646.4,881.8 L646.0,883.5 L645.5,885.1 L645.1,886.8 L644.7,888.4 L644.2,890.1 L643.8,891.8 L643.3,893.4 L642.9,895.1 L642.5,896.8 L642.0,898.4 L641.6,900.1 L641.1,901.7 L640.6,903.4 L640.2,905.0 L639.7,906.7 L639.2,908.4 L638.8,910.0 L638.3,911.7 L637.8,913.3 L637.3,915.0 L636.8,916.6 L636.3,918.2 L635.8,919.9 L635.3,921.5 L634.8,923.2 L634.2,924.8 L633.7,926.4 L633.1,928.1 L632.6,929.7 L632.0,931.3 L631.4,932.9 L630.8,934.5 L630.2,936.2 L629.6,937.8 L629.0,939.4 L628.4,941.0 L627.7,942.6 L627.1,944.2 L626.4,945.7 L625.7,947.3 L625.0,948.9 L624.3,950.5 L623.6,952.0 L622.9,953.6 L622.1,955.1 L621.3,956.7 L620.6,958.2 L619.8,959.7 L619.0,961.2 L618.1,962.7 L617.3,964.2 L616.4,965.7 L615.5,967.2 L614.6,968.7 L613.7,970.1 L612.8,971.6 L611.8,973.0 L610.8,974.4 L609.8,975.8 L608.8,977.2 L607.7,978.5 L606.6,979.9 L605.6,981.2 L604.5,982.6 L603.3,983.8 L602.1,985.0 L600.8,986.1 L599.4,987.2 L598.0,988.1 L596.5,989.0 L595.0,989.9 L593.5,990.7 L592.0,991.5 L590.4,992.3 L588.8,993.0 L587.3,993.6 L585.6,994.3 L584.0,994.9 L582.4,995.4 L580.7,995.7 L579.0,995.9 L577.3,996.0 L575.6,996.2 L573.8,996.2 L572.1,996.2 L570.4,996.1 L568.7,996.0 L567.0,995.9 L565.2,995.8 L563.5,995.6 L561.8,995.3 L560.1,994.9 L558.5,994.5 L556.9,993.8 L555.4,992.9 L554.0,991.9 L552.7,990.8 L551.4,989.6 L550.3,988.3 L549.3,987.0 L548.4,985.5 L547.5,984.0 L546.8,982.4 L546.1,980.9 L545.4,979.3 L544.8,977.7 L544.2,976.0 L543.7,974.4 L543.2,972.8 L542.7,971.1 L542.3,969.4 L541.9,967.8 L541.4,966.1 L541.0,964.4 L540.6,962.8 L540.2,961.1" fill="none" stroke="#0a9fa1" stroke-width="2.5" stroke-linejoin="round" stroke-linecap="round"/>
<line x1="515.50" y1="630.30" x2="515.50" y2="1071.50" stroke="#1c1c1c" stroke-width="2.2" stroke-linecap="butt"/>
<line x1="514.50" y1="630.30" x2="721.40" y2="630.30" stroke="#1c1c1c" stroke-width="2.2" stroke-linecap="butt"/>
<line x1="714.20" y1="630.30" x2="714.20" y2="1071.50" stroke="#1c1c1c" stroke-width="2.2" stroke-linecap="butt"/>
<line x1="514.50" y1="1071.50" x2="717.60" y2="1071.50" stroke="#1c1c1c" stroke-width="2.2" stroke-linecap="butt"/>
<line x1="529.20" y1="1071.50" x2="529.20" y2="1080.30" stroke="#1c1c1c" stroke-width="2.2" stroke-linecap="butt"/>
<line x1="557.59" y1="1071.50" x2="557.59" y2="1076.20" stroke="#1c1c1c" stroke-width="2.2" stroke-linecap="butt"/>
<line x1="585.98" y1="1071.50" x2="585.98" y2="1080.30" stroke="#1c1c1c" stroke-width="2.2" stroke-linecap="butt"/>
<line x1="614.37" y1="1071.50" x2="614.37" y2="1076.20" stroke="#1c1c1c" stroke-width="2.2" stroke-linecap="butt"/>
<line x1="642.76" y1="1071.50" x2="642.76" y2="1080.30" stroke="#1c1c1c" stroke-width="2.2" stroke-linecap="butt"/>
<line x1="671.15" y1="1071.50" x2="671.15" y2="1076.20" stroke="#1c1c1c" stroke-width="2.2" stroke-linecap="butt"/>
<line x1="699.54" y1="1071.50" x2="699.54" y2="1080.30" stroke="#1c1c1c" stroke-width="2.2" stroke-linecap="butt"/>
<text transform="translate(513.41,1107.40) scale(1.0032,1)" font-size="22.43" fill="#1c1c1c">1.0</text>
<text transform="translate(570.12,1107.40) scale(1.0186,1)" font-size="22.43" fill="#1c1c1c">1.2</text>
<text transform="translate(626.64,1107.40) scale(1.0201,1)" font-size="22.43" fill="#1c1c1c">1.4</text>
<text transform="translate(683.80,1107.40) scale(1.0036,1)" font-size="22.43" fill="#1c1c1c">1.6</text>
<line x1="714.20" y1="1009.00" x2="721.40" y2="1009.00" stroke="#1c1c1c" stroke-width="2.2" stroke-linecap="butt"/>
<text transform="translate(728.04,1015.60) scale(1.0579,1)" font-size="22.57" fill="#1c1c1c">0.0</text>
<line x1="714.20" y1="945.85" x2="718.00" y2="945.85" stroke="#1c1c1c" stroke-width="2.2" stroke-linecap="butt"/>
<line x1="714.20" y1="882.70" x2="721.40" y2="882.70" stroke="#1c1c1c" stroke-width="2.2" stroke-linecap="butt"/>
<text transform="translate(728.03,889.30) scale(1.0701,1)" font-size="22.57" fill="#1c1c1c">0.2</text>
<line x1="714.20" y1="819.55" x2="718.00" y2="819.55" stroke="#1c1c1c" stroke-width="2.2" stroke-linecap="butt"/>
<line x1="714.20" y1="756.40" x2="721.40" y2="756.40" stroke="#1c1c1c" stroke-width="2.2" stroke-linecap="butt"/>
<text transform="translate(728.05,763.00) scale(1.0539,1)" font-size="22.57" fill="#1c1c1c">0.4</text>
<line x1="714.20" y1="693.25" x2="718.00" y2="693.25" stroke="#1c1c1c" stroke-width="2.2" stroke-linecap="butt"/>
<text transform="translate(728.04,636.70) scale(1.0619,1)" font-size="22.57" fill="#1c1c1c">0.6</text>
<text transform="translate(791.80,0) rotate(-90)" y="0" font-size="22.90" fill="#1c1c1c" xml:space="preserve"><tspan x="-925.51" textLength="87.67" lengthAdjust="spacingAndGlyphs">Current</tspan> <tspan x="-830.75" textLength="52.43" lengthAdjust="spacingAndGlyphs">(mA)</tspan></text>
<text y="1158.80" font-size="22.32" fill="#1c1c1c" xml:space="preserve"><tspan x="482.89" textLength="97.58" lengthAdjust="spacingAndGlyphs">Potential</tspan> <tspan x="586.79" textLength="26.85" lengthAdjust="spacingAndGlyphs">(V</tspan> <tspan x="617.09" textLength="27.83" lengthAdjust="spacingAndGlyphs">vs.</tspan> <tspan x="652.00" textLength="93.03" lengthAdjust="spacingAndGlyphs">Ag/AgCl)</tspan></text>
<defs><linearGradient id="bg" x1="0" y1="0" x2="0" y2="1"><stop offset="0" stop-color="#ffffff"/><stop offset="1" stop-color="#eef9fc"/></linearGradient></defs>
<rect x="0" y="1174" width="812" height="7" fill="url(#bg)"/>
<rect x="-2" y="1180.9" width="816" height="3" fill="#2b3c66"/>
</g>
</svg>
</body></html>
